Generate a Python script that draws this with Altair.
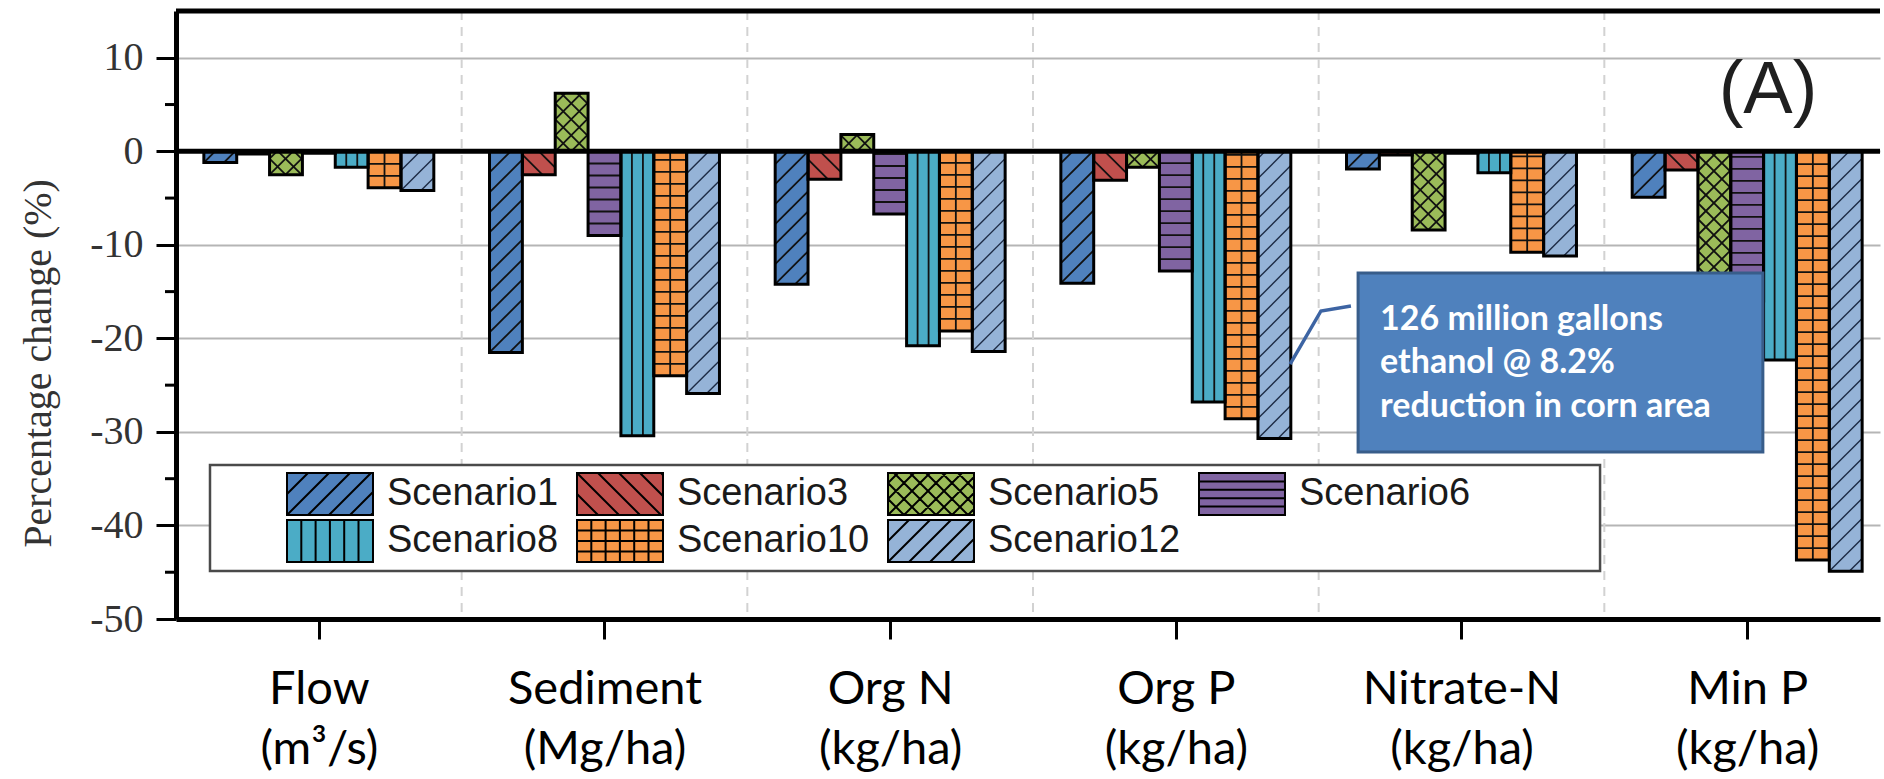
import json

import altair as alt
import numpy as np
import pandas as pd

# ---------------------------------------------------------------- data
categories = ["Flow", "Sediment", "Org N", "Org P", "Nitrate-N", "Min P"]
units = ["(m³/s)", "(Mg/ha)", "(kg/ha)", "(kg/ha)", "(kg/ha)", "(kg/ha)"]
scenarios = ["Scenario1", "Scenario3", "Scenario5", "Scenario6",
             "Scenario8", "Scenario10", "Scenario12"]

# percentage change per category, one list per scenario
scenario1 = [-1.2, -21.5, -14.2, -14.1, -1.9, -4.9]
scenario3 = [-0.3, -2.5, -3.0, -3.1, -0.4, -2.0]
scenario5 = [-2.5, 6.2, 1.8, -1.7, -8.4, -17.5]
scenario6 = [-0.2, -9.0, -6.7, -12.8, -0.2, -16.0]
scenario8 = [-1.7, -30.4, -20.8, -26.8, -2.3, -22.3]
scenario10 = [-3.9, -24.0, -19.2, -28.6, -10.8, -43.7]
scenario12 = [-4.2, -25.9, -21.4, -30.7, -11.2, -44.9]
series = [scenario1, scenario3, scenario5, scenario6,
          scenario8, scenario10, scenario12]

colors = ["#4F81BD", "#C0504D", "#9BBB59", "#8064A2",
          "#4BACC6", "#F79646", "#95B3D7"]

y_ticks = [10, 0, -10, -20, -30, -40, -50]

callout_lines = ["126 million gallons", "ethanol @ 8.2%",
                 "reduction in corn area"]

# ---------------------------------------------------------------- layout
PLOT_W, PLOT_H = 1704, 608
X_MAX = 5.965            # category axis runs a little past the right edge
Y_MIN, Y_MAX = -50, 15
KX = PLOT_W / X_MAX      # pixels per category step
KY = PLOT_H / (Y_MAX - Y_MIN)  # pixels per percentage point
GROUP = 0.805            # share of a category taken by its bar group
BW = GROUP / len(scenarios)
PAD = (1 - GROUP) / 2

# hatch pattern per scenario: (kind, spacing in px)
bar_hatch = {
    "Scenario1": [("up", 20)],
    "Scenario3": [("down", 20)],
    "Scenario5": [("up", 16), ("down", 16)],
    "Scenario6": [("horiz", 12)],
    "Scenario8": [("vert", 11)],
    "Scenario10": [("horiz", 12), ("vert", 16.4)],
    "Scenario12": [("up", 20)],
}
legend_hatch = {
    "Scenario1": [("up", 21)],
    "Scenario3": [("down", 21)],
    "Scenario5": [("up", 16), ("down", 16)],
    "Scenario6": [("horiz", 8.4)],
    "Scenario8": [("vert", 14.3)],
    "Scenario10": [("horiz", 10.5), ("vert", 14.3)],
    "Scenario12": [("up", 21)],
}
hatch_color = {s: "#111111" for s in scenarios}
hatch_color["Scenario12"] = "#1d2b45"
hatch_width = {s: 1.8 for s in scenarios}
hatch_width["Scenario12"] = 1.4


def hatch_segments(kind, s, w, h):
    """Line segments (x1, y1, x2, y2) filling a w x h box, y pointing up."""
    out = []
    if kind == "horiz":
        for y in np.arange(s, h - 1, s):
            out.append((0, y, w, y))
    elif kind == "vert":
        for x in np.arange(s, w - 1, s):
            out.append((x, 0, x, h))
    elif kind == "up":          # y = x + c
        for c in np.arange(np.floor(-w / s) * s, h + s, s):
            xa, xb = max(0.0, -c), min(w, h - c)
            if xb - xa > 0.5:
                out.append((xa, xa + c, xb, xb + c))
    elif kind == "down":        # y = -x + c
        for c in np.arange(s, w + h + s, s):
            xa, xb = max(0.0, c - h), min(w, c)
            if xb - xa > 0.5:
                out.append((xa, c - xa, xb, c - xb))
    return out


# bars in category units
bar_rows = []
hatch_rows = []
for i, cat in enumerate(categories):
    for j, (name, vals) in enumerate(zip(scenarios, series)):
        v = vals[i]
        x0 = i + PAD + j * BW
        bar_rows.append({"category": cat, "scenario": name, "value": v,
                         "x0": x0, "x1": x0 + BW})
        w_px, h_px = BW * KX, abs(v) * KY
        y_lo = min(v, 0)
        for kind, s in bar_hatch[name]:
            for (a, b, c, d) in hatch_segments(kind, s, w_px, h_px):
                hatch_rows.append({
                    "hx": x0 + a / KX, "hy": y_lo + b / KY,
                    "hx2": x0 + c / KX, "hy2": y_lo + d / KY,
                    "hc": hatch_color[name], "hw": hatch_width[name]})
bar_df = pd.DataFrame(bar_rows)
hatch_df = pd.DataFrame(hatch_rows)

# legend swatch shapes as SVG paths (unit radius R px)
SW_W, SW_H, R = 86.0, 42.0, 21.0


def swatch_path(name):
    def px(x, y):
        return f"{(x - R) / R:.3f},{(R - y) / R:.3f}"
    parts = [f"M{px(0, SW_H)}L{px(SW_W, SW_H)}L{px(SW_W, 0)}L{px(0, 0)}Z"]
    for kind, s in legend_hatch[name]:
        for (a, b, c, d) in hatch_segments(kind, s, SW_W, SW_H):
            parts.append(f"M{px(a, b)}L{px(c, d)}")
    return "".join(parts)


swatch_paths = [swatch_path(s) for s in scenarios]

# ---------------------------------------------------------------- scales / guides
xscale = alt.Scale(domain=[0, X_MAX], nice=False, zero=False)
yscale = alt.Scale(domain=[Y_MIN, Y_MAX], nice=False, zero=False)
fill_scale = alt.Scale(domain=scenarios, range=colors)
outline_scale = alt.Scale(domain=scenarios, range=["black"] * len(scenarios))
shape_scale = alt.Scale(domain=scenarios, range=swatch_paths)

label_expr = (json.dumps([[c, u] for c, u in zip(categories, units)],
                         ensure_ascii=False)
              + "[floor(datum.value)]")

x_axis = alt.Axis(
    values=[i + 0.5 for i in range(len(categories))],
    labelExpr=label_expr, title=None, grid=False,
    domainColor="black", domainWidth=5,
    tickColor="black", tickWidth=3, tickSize=20,
    labelFont="Lato", labelFontSize=47, labelColor="black",
    labelLineHeight=60, labelBaseline="top", labelPadding=27,
    labelOverlap=False, labelFlush=False, labelAngle=0, labelLimit=0,
)
y_axis = alt.Axis(
    values=y_ticks, labelExpr="datum.value + ''",
    title="Percentage change (%)",
    titleFont="Liberation Serif", titleFontSize=40, titleFontWeight="normal",
    titleColor="#333333", titleX=-138, titleY=352, titleAngle=270,
    titleAlign="center", titleBaseline="middle",
    domainColor="black", domainWidth=5,
    tickColor="black", tickWidth=3, tickSize=20,
    labelFont="Liberation Serif", labelFontSize=40, labelColor="#333333",
    labelPadding=13,
    grid=True, gridColor="#b5b5b5", gridWidth=2,
)

legend_spec = alt.Legend(
    title=None, orient="none", legendX=110, legendY=461,
    direction="horizontal", columns=4, gridAlign="each", padding=0,
    symbolSize=R * R * 4, symbolStrokeColor="black", symbolStrokeWidth=2,
    symbolOpacity=1,
    labelFont="Liberation Sans", labelFontSize=38, labelColor="#1a1a1a",
    labelOffset=SW_W - 2 * R + 13, labelLimit=400,
    columnPadding=14, rowPadding=-4,
)

# ---------------------------------------------------------------- layers
# Only the bar layer configures the axes; other layers leave them at their
# implicit defaults so the explicit settings win when layers are merged.
separators = alt.Chart(
    pd.DataFrame({"b": list(range(1, len(categories)))})
).mark_rule(color="#d2d2d2", strokeDash=[9, 7], strokeWidth=2).encode(
    x=alt.X("b:Q", scale=xscale))

legend_box = alt.Chart(
    pd.DataFrame({"x": [0.119], "x2": [4.985], "y": [-33.53], "y2": [-44.87]})
).mark_rect(fill="white", stroke="#4a4a4a", strokeWidth=2.5).encode(
    x=alt.X("x:Q", scale=xscale), x2="x2:Q",
    y=alt.Y("y:Q", scale=yscale), y2="y2:Q")

bars = alt.Chart(bar_df).mark_rect().encode(
    x=alt.X("x0:Q", scale=xscale, axis=x_axis), x2="x1:Q",
    y=alt.Y("value:Q", scale=yscale, axis=y_axis), y2=alt.datum(0),
    fill=alt.Fill("scenario:N", scale=fill_scale, legend=legend_spec),
)

hatches = alt.Chart(hatch_df).mark_rule(strokeCap="butt").encode(
    x=alt.X("hx:Q", scale=xscale), x2="hx2:Q",
    y=alt.Y("hy:Q", scale=yscale), y2="hy2:Q",
    color=alt.Color("hc:N", scale=None),
    strokeWidth=alt.StrokeWidth("hw:Q", scale=None),
)

outlines = alt.Chart(bar_df).mark_rect(
    fillOpacity=0, stroke="black", strokeWidth=3).encode(
    x=alt.X("x0:Q", scale=xscale), x2="x1:Q",
    y=alt.Y("value:Q", scale=yscale), y2=alt.datum(0))

frame_lines = alt.Chart(
    pd.DataFrame({"y": [0, Y_MAX]})
).mark_rule(color="black", strokeWidth=5).encode(
    y=alt.Y("y:Q", scale=yscale))

minor_ticks = alt.Chart(
    pd.DataFrame({"m": [t - 5 for t in y_ticks[:-1]]})
).mark_rule(color="black", strokeWidth=3).encode(
    y=alt.Y("m:Q", scale=yscale),
    x=alt.value(-11), x2=alt.value(0))

callout_box = alt.Chart(
    pd.DataFrame({"x": [4.138], "x2": [5.555], "y": [-13.0], "y2": [-32.15]})
).mark_rect(fill="#4F81BD", stroke="#385D8A", strokeWidth=3).encode(
    x=alt.X("x:Q", scale=xscale), x2="x2:Q",
    y=alt.Y("y:Q", scale=yscale), y2="y2:Q")

leader = alt.Chart(
    pd.DataFrame({"x": [3.900, 4.008, 4.113], "y": [-22.74, -17.07, -16.54],
                  "o": [0, 1, 2]})
).mark_line(color="#3d64a3", strokeWidth=3.5).encode(
    x=alt.X("x:Q", scale=xscale),
    y=alt.Y("y:Q", scale=yscale), order="o:O")

callout_text = alt.Chart(
    pd.DataFrame({"x": [4.215], "y": [-19.1]})
).mark_text(align="left", baseline="alphabetic", font="Lato",
            fontWeight="bold", fontSize=34, color="white",
            lineHeight=43.5).encode(
    x=alt.X("x:Q", scale=xscale),
    y=alt.Y("y:Q", scale=yscale),
    text=alt.value(callout_lines))

panel_label = alt.Chart(
    pd.DataFrame({"x": [5.573], "y": [4.1]})
).mark_text(align="center", baseline="alphabetic", font="Liberation Sans",
            fontSize=74, color="#1f1f1f").encode(
    x=alt.X("x:Q", scale=xscale),
    y=alt.Y("y:Q", scale=yscale),
    text=alt.value("(A)"))

# invisible points that carry the hatched legend symbols
legend_points = alt.Chart(
    pd.DataFrame({"scenario": scenarios})
).mark_point(filled=True, opacity=0, size=R * R * 4, strokeWidth=2).encode(
    x=alt.datum(0.5), y=alt.datum(0),
    fill=alt.Fill("scenario:N", scale=fill_scale, legend=legend_spec),
    shape=alt.Shape("scenario:N", scale=shape_scale, legend=legend_spec),
    stroke=alt.Stroke("scenario:N", scale=outline_scale, legend=legend_spec),
)

chart = alt.layer(
    separators, legend_box, bars, hatches, outlines, frame_lines,
    minor_ticks, callout_box, leader, callout_text, panel_label,
    legend_points,
).properties(
    width=PLOT_W, height=PLOT_H,
    padding={"left": 176, "top": 11, "right": 4, "bottom": 160},
    autosize=alt.AutoSizeParams(type="none"),
    background="white",
).configure_view(stroke=None)

chart.save("out.html", embed_options={"renderer": "svg", "actions": False})
